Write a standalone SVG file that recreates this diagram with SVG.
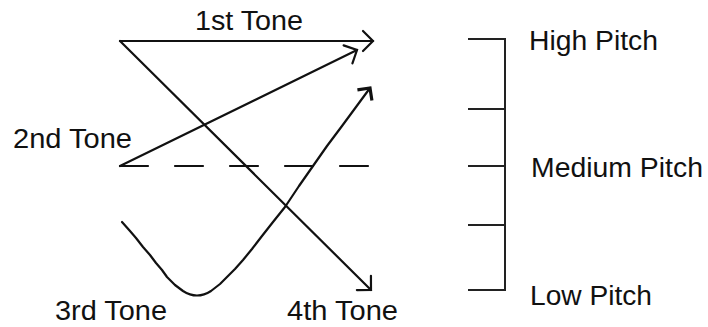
<svg xmlns="http://www.w3.org/2000/svg" width="708" height="327" viewBox="0 0 708 327">
<style>
.t{font-family:"Liberation Sans",Arial,sans-serif;font-size:27.5px;fill:#111}
.ln{stroke:#111;stroke-width:2.2;fill:none;stroke-linecap:round;stroke-linejoin:round}
.sc{stroke:#222;stroke-width:2;fill:none}
</style>
<defs>
<marker id="ah" markerUnits="userSpaceOnUse" orient="auto" refX="0" refY="0" markerWidth="30" markerHeight="30" viewBox="-15 -15 30 30" overflow="visible">
<path d="M-10,-10 L0,0 L-10,10" fill="none" stroke="#111" stroke-width="2.2" stroke-linecap="round" stroke-linejoin="miter"/>
</marker>
<marker id="ah3" markerUnits="userSpaceOnUse" orient="auto" refX="0" refY="0" markerWidth="30" markerHeight="30" viewBox="-15 -15 30 30" overflow="visible">
<path d="M-9,-9 L0,0 L-9,9" fill="none" stroke="#111" stroke-width="3.2" stroke-linecap="butt" stroke-linejoin="miter"/>
</marker>
</defs>
<g id="connectors">
<path class="ln" d="M120,41 L373,41" marker-end="url(#ah)"/>
<path class="ln" d="M120,41 L371,290" marker-end="url(#ah)"/>
<path class="ln" d="M120,166 L357,50" marker-end="url(#ah)"/>
<path class="ln" d="M120,166 L370,166" stroke-dasharray="28 27" stroke-linecap="butt"/>
<path class="ln" d="M122,222 L130,231 L136,238 L143,247 L150,255 L156,263 L162,270 L167,277 L175,285 L183,291 Q197,300 211,291 L220,284 L227,277 L235,269 L243,260 L252,249 L262,236 L273,222 L285,207 L299,186 L313,166 L327,146 L342,126 L356,107 L370,88" marker-end="url(#ah3)"/>
</g>
<g id="tone1"><text class="t" x="195" y="30" textLength="108" lengthAdjust="spacingAndGlyphs">1st Tone</text></g>
<g id="tone2"><text class="t" x="13" y="148" textLength="119" lengthAdjust="spacingAndGlyphs">2nd Tone</text></g>
<g id="tone3"><text class="t" x="55" y="320" textLength="112" lengthAdjust="spacingAndGlyphs">3rd Tone</text></g>
<g id="tone4"><text class="t" x="287" y="320" textLength="111" lengthAdjust="spacingAndGlyphs">4th Tone</text></g>
<g id="scale">
<path class="sc" d="M468,39 L505,39 L505,290 L468,290 M468,109 L505,109 M468,166 L505,166 M468,225 L505,225"/>
</g>
<g id="high"><text class="t" x="529" y="50" textLength="129" lengthAdjust="spacingAndGlyphs">High Pitch</text></g>
<g id="medium"><text class="t" x="531" y="177" textLength="172" lengthAdjust="spacingAndGlyphs">Medium Pitch</text></g>
<g id="low"><text class="t" x="530" y="305" textLength="122" lengthAdjust="spacingAndGlyphs">Low Pitch</text></g>
</svg>
